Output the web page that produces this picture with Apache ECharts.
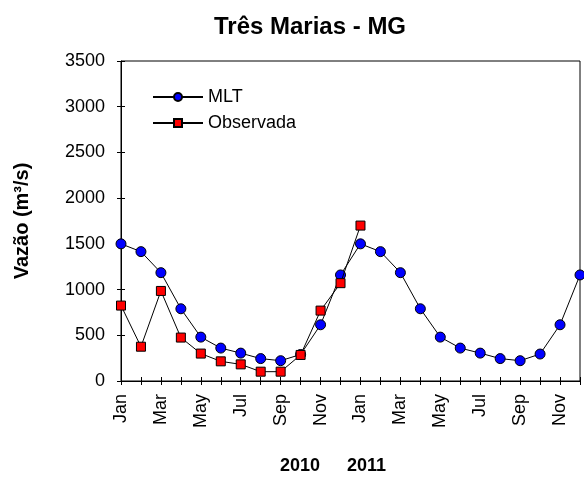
<!DOCTYPE html>
<html>
<head>
<meta charset="utf-8">
<script src="https://cdn.jsdelivr.net/npm/echarts@6/dist/echarts.min.js"></script>
<style>
  html, body { margin: 0; padding: 0; background: #fff; }
  #chart { width: 584px; height: 477px; }
</style>
</head>
<body>
<div id="chart"></div>
<script>
// Months Jan 2010 .. Dec 2011
const months = ['Jan','Feb','Mar','Apr','May','Jun','Jul','Aug','Sep','Oct','Nov','Dec',
                'Jan','Feb','Mar','Apr','May','Jun','Jul','Aug','Sep','Oct','Nov','Dec'];
// Long-term mean flow (MLT), m³/s
const mlt = [1500, 1415, 1185, 790, 480, 360, 305, 245, 222, 290, 615, 1160,
             1500, 1415, 1185, 790, 480, 360, 305, 245, 222, 295, 615, 1160];
// Observed flow, m³/s (Jan 2010 .. Jan 2011)
const observada = [825, 375, 985, 475, 300, 215, 182, 102, 102, 285, 770, 1070, 1700];
const yTicks = { min: 0, max: 3500, interval: 500 };
const years = ['2010', '2011'];

const font = 'Liberation Sans, Arial, sans-serif';
const chart = echarts.init(document.getElementById('chart'));

// ticks that cross the axis: one axis draws them outside, a twin draws them inside
const yBase = {
  type: 'value', position: 'left',
  min: yTicks.min, max: yTicks.max, interval: yTicks.interval,
  splitLine: { show: false }
};
const xBase = {
  type: 'category', data: months, boundaryGap: false, position: 'bottom',
  splitLine: { show: false }
};

chart.setOption({
  animation: false,
  backgroundColor: '#ffffff',
  title: {
    text: 'Três Marias - MG',
    left: 305, top: 10, textAlign: 'center',
    textStyle: { fontFamily: font, fontSize: 24, fontWeight: 'bold', color: '#000' }
  },
  legend: {
    orient: 'vertical',
    left: 147, top: 83,
    itemGap: 8,
    itemWidth: 50, itemHeight: 10,
    textStyle: { fontFamily: font, fontSize: 18, color: '#000' },
    data: ['MLT', 'Observada']
  },
  grid: { left: 121, right: 4, top: 61, bottom: 96, show: true, borderColor: '#000', borderWidth: 1 },
  xAxis: [
    Object.assign({}, xBase, {
      axisLine: { lineStyle: { color: '#000', width: 1 } },
      axisTick: { show: true, interval: 0, length: 4, lineStyle: { color: '#000' } },
      axisLabel: { interval: 1, rotate: 90, margin: 13, fontFamily: font, fontSize: 18, color: '#000' }
    }),
    Object.assign({}, xBase, {
      axisLine: { show: false },
      axisTick: { show: true, inside: true, interval: 0, length: 4, lineStyle: { color: '#000' } },
      axisLabel: { show: false }
    })
  ],
  yAxis: [
    Object.assign({}, yBase, {
      name: 'Vazão (m³/s)',
      nameLocation: 'middle',
      nameGap: 89,
      nameRotate: 90,
      nameTextStyle: { fontFamily: font, fontSize: 20, fontWeight: 'bold', color: '#000' },
      axisLine: { show: true, lineStyle: { color: '#000', width: 1 } },
      axisTick: { show: true, length: 4, lineStyle: { color: '#000' } },
      axisLabel: { fontFamily: font, fontSize: 18, color: '#000', margin: 16, formatter: v => String(v) }
    }),
    Object.assign({}, yBase, {
      axisLine: { show: false },
      axisTick: { show: true, inside: true, length: 4, lineStyle: { color: '#000' } },
      axisLabel: { show: false }
    })
  ],
  graphic: [
    { type: 'text', left: 280, top: 457, style: { text: years[0], font: 'bold 18px ' + font, fill: '#000' } },
    { type: 'text', left: 347, top: 457, style: { text: years[1], font: 'bold 18px ' + font, fill: '#000' } }
  ],
  series: [
    {
      name: 'MLT', type: 'line', data: mlt,
      symbol: 'circle', symbolSize: 10,
      lineStyle: { color: '#000', width: 1 },
      itemStyle: { color: '#0000ff', borderColor: '#000', borderWidth: 1 },
      z: 3
    },
    {
      name: 'Observada', type: 'line', data: observada,
      symbol: 'rect', symbolSize: 9,
      lineStyle: { color: '#000', width: 1 },
      itemStyle: { color: '#ff0000', borderColor: '#000', borderWidth: 1 },
      z: 4
    }
  ]
});
</script>
</body>
</html>
